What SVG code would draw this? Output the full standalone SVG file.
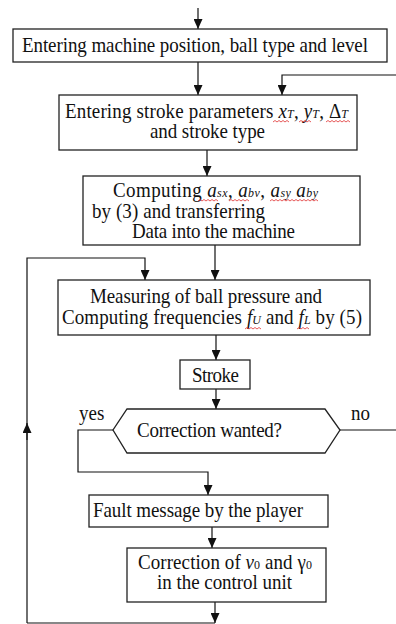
<svg xmlns="http://www.w3.org/2000/svg" width="396" height="624" viewBox="0 0 396 624">
<style>
.box{fill:#fff;stroke:#222;stroke-width:1.3}
.ln{fill:none;stroke:#111;stroke-width:1.2}
.t{font-family:"Liberation Serif","Times New Roman",serif;font-size:19px;fill:#111}
.m{font-style:italic}
.sq{fill:none;stroke:#e03030;stroke-width:0.8}
</style>
<defs>
<marker id="ah" markerUnits="userSpaceOnUse" markerWidth="10" markerHeight="9" refX="10" refY="4.5" orient="auto">
<path d="M0,0 L10,4.5 L0,9 z" fill="#111"/>
</marker>
</defs>
<g id="connectors">
<path class="ln" d="M198,8 V29" marker-end="url(#ah)"/>
<path class="ln" d="M198,62 V95" marker-end="url(#ah)"/>
<path class="ln" d="M396,75 H282 V95" marker-end="url(#ah)"/>
<path class="ln" d="M207,150 V176" marker-end="url(#ah)"/>
<path class="ln" d="M215,245 V280" marker-end="url(#ah)"/>
<path class="ln" d="M27,623 V258 H145 V280" marker-end="url(#ah)"/>
<path class="ln" d="M27,440 V423" marker-end="url(#ah)"/>
<path class="ln" d="M216,335 V360" marker-end="url(#ah)"/>
<path class="ln" d="M216,389 V409" marker-end="url(#ah)"/>
<path class="ln" d="M340,430 H396"/>
<path class="ln" d="M113,430 H78 V472 H208 V495" marker-end="url(#ah)"/>
<path class="ln" d="M212,527 V548" marker-end="url(#ah)"/>
<path class="ln" d="M27,623 H215"/>
<path class="ln" d="M215,602 V623" marker-end="url(#ah)"/>
</g>
<g id="n1">
<rect class="box" x="13" y="29" width="374" height="33"/>
<text class="t" transform="scale(1,1.12)" x="22" y="46.43" textLength="346" lengthAdjust="spacing">Entering machine position, ball type and level</text>
</g>
<g id="n2">
<rect class="box" x="59" y="95" width="298" height="55"/>
<text class="t" transform="scale(1,1.12)" x="65" y="105.36" textLength="283" lengthAdjust="spacing">Entering stroke parameters <tspan class="m">x</tspan><tspan class="m" font-size="12">T</tspan>, <tspan class="m">y</tspan><tspan class="m" font-size="12">T</tspan>, Δ<tspan class="m" font-size="12">T</tspan></text>
<text class="t" transform="scale(1,1.12)" x="150" y="123.21" textLength="115" lengthAdjust="spacing">and stroke type</text>
<path class="sq" d="M273,122 l2,-1.5 l2,1.5 l2,-1.5 l2,1.5 l2,-1.5 l2,1.5 l2,-1.5 l2,1.5 M299,122 l2,-1.5 l2,1.5 l2,-1.5 l2,1.5 l2,-1.5 l2,1.5 M326,122 l2,-1.5 l2,1.5 l2,-1.5 l2,1.5 l2,-1.5 l2,1.5 l2,-1.5 l2,1.5 l2,-1.5 l2,1.5 l2,-1.5 l2,1.5"/>
</g>
<g id="n3">
<rect class="box" x="83" y="176" width="277" height="69"/>
<text class="t" transform="scale(1,1.12)" x="113" y="175.89" textLength="205" lengthAdjust="spacing">Computing <tspan class="m">a</tspan><tspan class="m" font-size="12">sx</tspan>, <tspan class="m">a</tspan><tspan class="m" font-size="12">bv</tspan>, <tspan class="m">a</tspan><tspan class="m" font-size="12">sy</tspan> <tspan class="m">a</tspan><tspan class="m" font-size="12">by</tspan></text>
<text class="t" transform="scale(1,1.12)" x="92" y="194.64" textLength="173" lengthAdjust="spacing">by (3)  and transferring</text>
<text class="t" transform="scale(1,1.12)" x="132" y="212.5" textLength="163" lengthAdjust="spacing">Data into the machine</text>
<path class="sq" d="M198,201 l2,-1.5 l2,1.5 l2,-1.5 l2,1.5 l2,-1.5 l2,1.5 l2,-1.5 l2,1.5 l2,-1.5 l2,1.5 M229,201 l2,-1.5 l2,1.5 l2,-1.5 l2,1.5 l2,-1.5 l2,1.5 l2,-1.5 l2,1.5 l2,-1.5 l2,1.5 M270,201 l2,-1.5 l2,1.5 l2,-1.5 l2,1.5 l2,-1.5 l2,1.5 l2,-1.5 l2,1.5 l2,-1.5 l2,1.5 l2,-1.5 l2,1.5 l2,-1.5 l2,1.5 l2,-1.5 l2,1.5 l2,-1.5 l2,1.5 l2,-1.5 l2,1.5 l2,-1.5 l2,1.5 l2,-1.5 l2,1.5"/>
</g>
<g id="n4">
<rect class="box" x="58" y="280" width="312" height="55"/>
<text class="t" transform="scale(1,1.12)" x="90" y="270.54" textLength="232" lengthAdjust="spacing">Measuring of ball pressure and</text>
<text class="t" transform="scale(1,1.12)" x="62" y="289.29" textLength="300" lengthAdjust="spacing">Computing  frequencies <tspan class="m">f</tspan><tspan class="m" font-size="12">U</tspan> and <tspan class="m">f</tspan><tspan class="m" font-size="12">L</tspan> by (5)</text>
<path class="sq" d="M245,329 l2,-1.5 l2,1.5 l2,-1.5 l2,1.5 l2,-1.5 l2,1.5 l2,-1.5 l2,1.5 M297,329 l2,-1.5 l2,1.5 l2,-1.5 l2,1.5 l2,-1.5 l2,1.5"/>
</g>
<g id="n5">
<rect class="box" x="180" y="360" width="70" height="29"/>
<text class="t" transform="scale(1,1.12)" x="192" y="341.07" textLength="47" lengthAdjust="spacing">Stroke</text>
</g>
<g id="n6">
<polygon class="box" points="127,409 325,409 340,430 325,453 127,453 113,430"/>
<text class="t" transform="scale(1,1.12)" x="137" y="390.18" textLength="145" lengthAdjust="spacing">Correction wanted?</text>
<text class="t" transform="scale(1,1.12)" x="79" y="375">yes</text>
<text class="t" transform="scale(1,1.12)" x="351" y="375">no</text>
</g>
<g id="n7">
<rect class="box" x="89" y="495" width="239" height="32"/>
<text class="t" transform="scale(1,1.12)" x="93" y="461.61" textLength="210" lengthAdjust="spacing">Fault message by the player</text>
</g>
<g id="n8">
<rect class="box" x="127" y="548" width="199" height="54"/>
<text class="t" transform="scale(1,1.12)" x="138" y="508.04" textLength="174" lengthAdjust="spacing">Correction of <tspan class="m">v</tspan><tspan font-size="12">0</tspan> and γ<tspan font-size="12">0</tspan></text>
<text class="t" transform="scale(1,1.12)" x="157" y="525.89" textLength="135" lengthAdjust="spacing">in the control unit</text>
</g>
</svg>
